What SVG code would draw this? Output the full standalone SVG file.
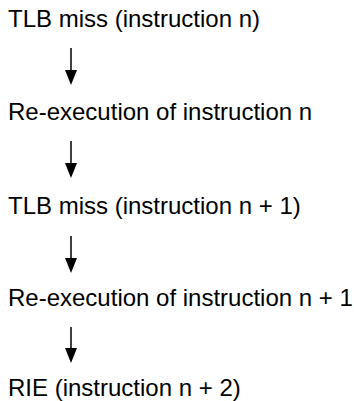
<svg xmlns="http://www.w3.org/2000/svg" width="354" height="401" viewBox="0 0 354 401">
<style>
text{font-family:"Liberation Sans",Arial,sans-serif;font-size:24px;fill:#000}
.c line{stroke:#000;stroke-width:1.5}
.c path{fill:#000}
</style>
<rect width="354" height="401" fill="#fff"/>
<g id="n1"><text x="8" y="27">TLB miss (instruction n)</text></g>
<g id="n2"><text x="8" y="120">Re-execution of instruction n</text></g>
<g id="n3"><text x="8" y="214">TLB miss (instruction n + 1)</text></g>
<g id="n4"><text x="8" y="306">Re-execution of instruction n + 1</text></g>
<g id="n5"><text x="8" y="396">RIE (instruction n + 2)</text></g>
<g id="connectors" class="c">
<line x1="71" y1="48" x2="71" y2="72"/><path d="M65,70 L77,70 L71,85 Z"/>
<line x1="71" y1="141" x2="71" y2="165"/><path d="M65,163 L77,163 L71,178 Z"/>
<line x1="71" y1="236" x2="71" y2="260"/><path d="M65,258 L77,258 L71,273 Z"/>
<line x1="71" y1="327" x2="71" y2="350"/><path d="M65,348 L77,348 L71,363 Z"/>
</g>
</svg>
